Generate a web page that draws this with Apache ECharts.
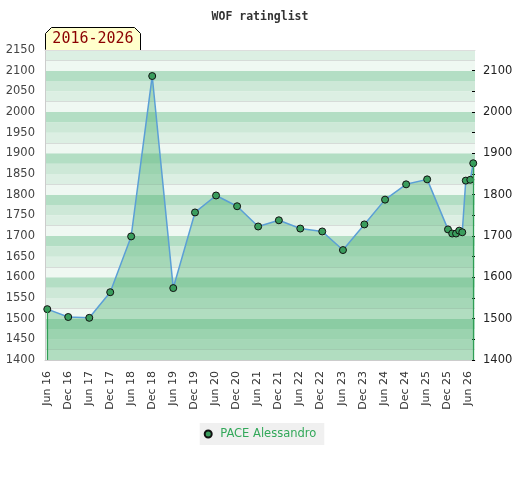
<!DOCTYPE html>
<html>

<head>
    <meta charset="utf-8">
    <title>WOF ratinglist</title>
    <script src="https://cdn.jsdelivr.net/npm/echarts@6/dist/echarts.min.js"></script>
    <style>
        body { margin: 0; background: #fff; }
    </style>
</head>

<body>
    <div id="chart" style="width: 520px; height: 480px;"></div>

    <script type="text/javascript">
        // rating history
        var playerName = 'PACE Alessandro';
        var periodLabel = '2016-2026';
        var dates = ['2016-06-04', '2016-12-03', '2017-06-03', '2017-12-02', '2018-06-01', '2018-12-01',
            '2019-06-01', '2019-12-07', '2020-06-07', '2020-12-07', '2021-06-07', '2021-12-04',
            '2022-06-07', '2022-12-15', '2023-06-12', '2023-12-15', '2024-06-12', '2024-12-12',
            '2025-06-12', '2025-12-10', '2026-01-16', '2026-02-19', '2026-03-16', '2026-04-12',
            '2026-05-12', '2026-06-21', '2026-07-16'];
        var ratings = [1523, 1504, 1502, 1564, 1699, 2087, 1574, 1757, 1798, 1772, 1723, 1738,
            1718, 1711, 1666, 1728, 1788, 1825, 1837, 1716, 1706, 1706, 1713, 1709,
            1834, 1836, 1876];
        var tickLabels = ['Jun 16', 'Dec 16', 'Jun 17', 'Dec 17', 'Jun 18', 'Dec 18', 'Jun 19',
            'Dec 19', 'Jun 20', 'Dec 20', 'Jun 21', 'Dec 21', 'Jun 22', 'Dec 22', 'Jun 23',
            'Dec 23', 'Jun 24', 'Dec 24', 'Jun 25', 'Dec 25', 'Jun 26'];

        // months counted from Jan 2016
        function dateToMonths(s) {
            var p = s.split('-');
            return (+p[0] - 2016) * 12 + (+p[1] - 1) + (+p[2] - 1) / 30.5;
        }
        function labelToMonths(s) {
            var p = s.split(' ');
            return (2000 + +p[1] - 2016) * 12 + (p[0] === 'Jun' ? 5 : 11);
        }

        var points = dates.map(function (d, i) { return [dateToMonths(d), ratings[i]]; });
        var tickValues = tickLabels.map(labelToMonths);
        var labelByMonth = {};
        tickLabels.forEach(function (l, i) { labelByMonth[tickValues[i]] = l; });

        var yMin = 1400, yMax = 2150;
        var first = points[0], last = points[points.length - 1];

        // right axis: ticks every 50 (not at the top edge), labels every 100
        var rightTicks = [];
        for (var v = yMin; v < yMax; v += 50) rightTicks.push(v);

        var myChart = echarts.init(document.getElementById('chart'), null, { renderer: 'canvas' });

        var option = {
            animation: false,
            title: {
                text: 'WOF ratinglist',
                left: 'center',
                top: 6,
                textStyle: { fontFamily: 'DejaVu Sans Mono', fontSize: 11.5, fontWeight: 'bold', color: '#333' }
            },
            legend: {
                data: [{ name: playerName, icon: 'circle' }],
                left: 'center',
                top: 423,
                itemWidth: 14,
                itemHeight: 7,
                padding: [5, 8, 5, 4],
                backgroundColor: '#f0f0f0',
                textStyle: { fontFamily: 'DejaVu Sans', fontSize: 11.5, color: '#33a85a' }
            },
            grid: { left: 45, right: 45, top: 50, bottom: 120 },
            xAxis: [{
                type: 'value',
                min: first[0] - 0.65,
                max: last[0] + 0.5,
                axisLine: { show: true, lineStyle: { color: '#cccccc' } },
                axisTick: { show: false },
                splitLine: { show: false },
                axisLabel: {
                    customValues: tickValues,
                    rotate: 90,
                    margin: 11,
                    fontFamily: 'DejaVu Sans',
                    fontSize: 11,
                    color: '#333',
                    formatter: function (v) { return labelByMonth[v] || ''; }
                }
            }, {
                type: 'value',
                position: 'top',
                min: first[0] - 0.65,
                max: last[0] + 0.5,
                axisLine: { show: true, lineStyle: { color: '#dddddd' } },
                axisTick: { show: false },
                axisLabel: { show: false },
                splitLine: { show: false }
            }],
            yAxis: [{
                type: 'value',
                position: 'left',
                min: yMin, max: yMax, interval: 50,
                axisLine: { show: true, lineStyle: { color: '#cccccc' } },
                axisTick: { show: false },
                splitLine: { show: false },
                axisLabel: {
                    margin: 10, fontFamily: 'DejaVu Sans', fontSize: 11.5, color: '#444',
                    formatter: function (v) { return String(v); }
                }
            }, {
                type: 'value',
                position: 'right',
                min: yMin, max: yMax, interval: 50,
                axisLine: { show: false },
                axisTick: { show: true, inside: true, length: 3, customValues: rightTicks, lineStyle: { color: '#000' } },
                splitLine: { show: false },
                axisLabel: {
                    margin: 8, fontFamily: 'DejaVu Sans', fontSize: 11.5, color: '#222',
                    formatter: function (v) { return v % 100 === 0 ? String(v) : ''; }
                }
            }, {
                // background stripes
                type: 'value',
                position: 'left',
                min: yMin, max: yMax, interval: 25,
                axisLine: { show: false },
                axisTick: { show: false },
                axisLabel: { show: false },
                splitArea: { show: true, areaStyle: { color: ['#eff8f2', '#dcefe3', '#cde8d7', '#b3dec4'] } },
                splitLine: {
                    show: true,
                    lineStyle: { width: 1, color: ['rgba(0,0,0,0)', '#d6dbd8', 'rgba(0,0,0,0)', 'rgba(0,0,0,0)'] }
                }
            }],
            series: [{
                name: playerName,
                type: 'line',
                data: points,
                symbol: 'circle',
                symbolSize: 7,
                itemStyle: { color: '#3a9d5d', borderColor: '#111', borderWidth: 1 },
                lineStyle: { color: '#5b9fd6', width: 1.5 },
                areaStyle: { color: 'rgba(64,172,102,0.5)', origin: 'start' },
                markLine: {
                    silent: true,
                    symbol: 'none',
                    label: { show: false },
                    lineStyle: { color: '#2f9e55', width: 1.2, type: 'solid' },
                    data: [
                        [{ coord: [first[0], yMin] }, { coord: [first[0], first[1]] }],
                        [{ coord: [last[0], yMin] }, { coord: [last[0], last[1]] }]
                    ]
                }
            }],
            graphic: [{
                type: 'group',
                left: 45,
                top: 27,
                children: [{
                    type: 'polygon',
                    shape: { points: [[0, 23], [0, 6], [6, 0], [89, 0], [95, 6], [95, 23]] },
                    style: { fill: '#ffffcc', stroke: '#000', lineWidth: 1 }
                }, {
                    type: 'text',
                    x: 47.5,
                    y: 12,
                    style: {
                        text: periodLabel,
                        fill: '#8b0000',
                        font: '15px "DejaVu Sans Mono"',
                        align: 'center',
                        verticalAlign: 'middle'
                    }
                }]
            }]
        };

        myChart.setOption(option);
    </script>
</body>

</html>
